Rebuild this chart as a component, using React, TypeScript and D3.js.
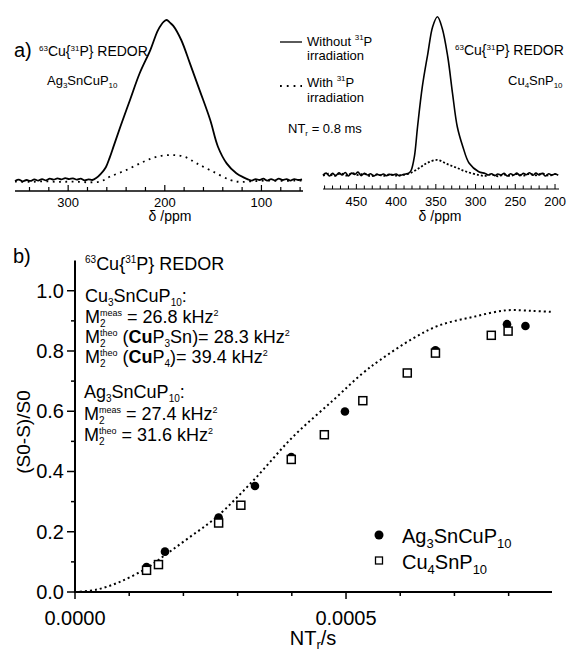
import React, { useEffect, useRef } from "react";
import * as d3 from "d3";

const W = 569;
const H = 654;
const FONT = "'Liberation Sans', Arial, Helvetica, sans-serif";

// a) left spectrum, Ag3SnCuP10  [ppm, normalised intensity]
const agSolid: [number, number][] = [
  [355, -0.006], [351, 0.002], [347, -0.008], [343, 0.0], [339, -0.006], [335, 0.004], [331, -0.004], [327, 0.006],
  [323, -0.002], [319, 0.008], [315, 0.002], [311, 0.01], [307, 0.004], [303, 0.012], [299, 0.006], [295, 0.01],
  [291, 0.002], [287, 0.008], [283, -0.002], [279, 0.004], [275, 0.0], [271, 0.012],
  [266, 0.04], [261, 0.08], [257, 0.14], [253, 0.21], [246, 0.333], [236, 0.5], [226, 0.667], [215, 0.812],
  [207, 0.937], [201, 0.99], [198, 1.0], [195, 0.985], [191, 0.962], [183, 0.875], [174, 0.729], [164, 0.562],
  [153, 0.375], [145, 0.208], [136, 0.104], [126, 0.042], [118, 0.015],
  [114, 0.004], [110, -0.004], [106, 0.006], [102, 0.0], [98, 0.008], [94, -0.004], [90, 0.006], [86, -0.002],
  [82, 0.008], [78, 0.0], [74, 0.006], [70, -0.004], [66, 0.006], [62, 0.0], [58, 0.004],
];
const agDotted: [number, number][] = [
  [355, -0.01], [340, -0.012], [325, -0.008], [310, -0.012], [295, -0.01], [280, -0.014], [267, -0.01],
  [257, 0.02], [240, 0.062], [222, 0.114], [208, 0.146], [193, 0.156], [180, 0.146], [167, 0.104],
  [150, 0.052], [132, 0.0], [122, -0.012], [110, -0.008], [95, -0.004], [80, -0.006], [65, -0.004], [58, -0.004],
];

// a) right spectrum, Cu4SnP10  [ppm, normalised intensity]
const cuSolid: [number, number][] = [
  [492, 0.0], [488, 0.012], [484, -0.006], [480, 0.01], [476, -0.004], [472, 0.014], [468, 0.0], [464, 0.016],
  [460, -0.006], [456, 0.012], [452, 0.004], [448, 0.018], [444, -0.004], [440, 0.01], [436, 0.0], [432, 0.008],
  [428, -0.006], [424, 0.004], [420, -0.002], [416, 0.006], [412, -0.004], [408, 0.004], [404, 0.0], [400, 0.006],
  [396, -0.004], [392, 0.002], [388, 0.006], [384, 0.012],
  [381, 0.03], [377, 0.116], [373, 0.305], [367, 0.558], [360, 0.769], [354, 0.937], [348, 1.0], [342, 0.927],
  [335, 0.747], [329, 0.516], [323, 0.305], [316, 0.179], [308, 0.074], [296, 0.021], [288, 0.01],
  [284, 0.0], [280, 0.008], [276, -0.004], [272, 0.006], [268, 0.0], [264, 0.01], [260, -0.006], [256, 0.008],
  [252, 0.0], [248, 0.012], [244, -0.004], [240, 0.01], [236, 0.002], [232, 0.014], [228, -0.002], [224, 0.012],
  [220, 0.0], [216, 0.01], [212, -0.006], [208, 0.008], [204, 0.0], [200, 0.006], [196, -0.002],
];
const cuDotted: [number, number][] = [
  [492, -0.004], [485, 0.008], [478, -0.006], [470, 0.01], [462, -0.004], [455, 0.012], [448, 0.0], [440, 0.008],
  [432, -0.008], [424, 0.004], [416, -0.006], [408, 0.004], [400, -0.004], [392, 0.0], [383, 0.01],
  [371, 0.044], [361, 0.076], [348, 0.095], [336, 0.07], [323, 0.044], [311, 0.02], [296, 0.0],
  [288, -0.006], [280, 0.004], [272, -0.008], [264, 0.002], [256, -0.006], [248, 0.006], [240, -0.004],
  [232, 0.008], [224, -0.002], [216, 0.01], [208, -0.004], [200, 0.006], [196, 0.0],
];

// b) REDOR curves
const agNT = [0.000132, 0.000166, 0.000265, 0.000332, 0.000399, 0.000498, 0.000665, 0.000797, 0.000831];
const agDS = [0.083, 0.134, 0.247, 0.352, 0.448, 0.599, 0.802, 0.889, 0.883];
const cuNT = [0.000132, 0.000154, 0.000265, 0.000306, 0.000399, 0.00046, 0.000531, 0.000613, 0.000665, 0.000768, 0.000799];
const cuDS = [0.072, 0.091, 0.229, 0.288, 0.44, 0.522, 0.635, 0.727, 0.793, 0.852, 0.866];
const theoNT = [0, 0.00004, 0.000082, 0.000131, 0.000168, 0.00021, 0.00026, 0.00033, 0.000402, 0.000476, 0.00053,
  0.000562, 0.000623, 0.000672, 0.000734, 0.000796, 0.000845, 0.000879];
const theoDS = [0, 0.008, 0.033, 0.078, 0.125, 0.18, 0.247, 0.372, 0.515, 0.636, 0.725, 0.769, 0.841, 0.885,
  0.913, 0.935, 0.933, 0.93];

const yTicks = [0, 0.2, 0.4, 0.6, 0.8, 1.0];
const xTickLabels = ["0.0000", "0.0005"];

type Part = { t: string; size?: number; dy?: number; bold?: boolean; stack?: boolean };

// one <text>, each piece a tspan placed by measuring the one before
function rich(g: any, x: number, y: number, parts: Part[], base: number) {
  const txt = g.append("text").attr("font-size", base).style("white-space", "pre");
  let cx = x;
  let held = 0;
  parts.forEach((p) => {
    const el = txt
      .append("tspan")
      .attr("x", cx)
      .attr("y", y + (p.dy || 0))
      .attr("font-size", p.size || base)
      .attr("font-weight", p.bold ? "bold" : "normal")
      .text(p.t);
    const w = (el.node() as SVGTextContentElement).getComputedTextLength();
    if (p.stack) {
      held = w;
    } else {
      cx += Math.max(w, held);
      held = 0;
    }
  });
  return { txt, width: cx - x };
}

const App = () => {
  const ref = useRef<SVGSVGElement>(null);

  useEffect(() => {
    const svg = d3.select(ref.current);
    svg.selectAll("*").remove();
    const g = svg.append("g").attr("font-family", FONT).attr("fill", "#000");

    // ---------- a) spectra ----------
    const spectrum = (
      xs: any, ys: any, solid: [number, number][], dotted: [number, number][], dash: string, sw: number
    ) => {
      const line = d3
        .line<[number, number]>()
        .x((d) => xs(d[0]))
        .y((d) => ys(d[1]))
        .curve(d3.curveCatmullRom.alpha(0.5));
      g.append("path").attr("d", line(dotted)).attr("fill", "none").attr("stroke", "#000")
        .attr("stroke-width", 1.8).attr("stroke-dasharray", dash);
      g.append("path").attr("d", line(solid)).attr("fill", "none").attr("stroke", "#000")
        .attr("stroke-width", sw).attr("stroke-linejoin", "round");
    };

    const xL = d3.scaleLinear().domain([355, 57]).range([15, 303]);
    const yL = d3.scaleLinear().domain([0, 1]).range([180, 20]);
    spectrum(xL, yL, agSolid, agDotted, "1.8,4.5", 1.8);

    const xR = d3.scaleLinear().domain([492, 195]).range([323, 559]);
    const yR = d3.scaleLinear().domain([0, 1]).range([175, 16.7]);
    spectrum(xR, yR, cuSolid, cuDotted, "2,2", 1.6);

    // top axes
    const axisL = 191;
    g.append("line").attr("x1", 15).attr("x2", 303).attr("y1", axisL).attr("y2", axisL)
      .attr("stroke", "#000").attr("stroke-width", 1.5);
    d3.range(60, 341, 20).forEach((v) => {
      const major = v % 100 === 0;
      g.append("line").attr("x1", xL(v)).attr("x2", xL(v)).attr("y1", axisL).attr("y2", axisL - (major ? 6 : 4))
        .attr("stroke", "#000").attr("stroke-width", 1.2);
      if (major)
        g.append("text").attr("x", xL(v)).attr("y", 206.5).attr("text-anchor", "middle").attr("font-size", 13).text(v);
    });
    g.append("text").attr("x", 170).attr("y", 221).attr("text-anchor", "middle").attr("font-size", 14).text("δ /ppm");

    const axisR = 189;
    g.append("line").attr("x1", 323).attr("x2", 559).attr("y1", axisR).attr("y2", axisR)
      .attr("stroke", "#000").attr("stroke-width", 1);
    d3.range(200, 491, 10).forEach((v) => {
      const major = v % 50 === 0;
      g.append("line").attr("x1", xR(v)).attr("x2", xR(v)).attr("y1", axisR).attr("y2", axisR - (major ? 5 : 3.5))
        .attr("stroke", "#000").attr("stroke-width", 1);
      if (major)
        g.append("text").attr("x", xR(v)).attr("y", 206).attr("text-anchor", "middle").attr("font-size", 13).text(v);
    });
    g.append("text").attr("x", 440).attr("y", 221).attr("text-anchor", "middle").attr("font-size", 14).text("δ /ppm");

    // top labels
    g.append("text").attr("x", 14).attr("y", 57).attr("font-size", 20).text("a)");
    const redorTop: Part[] = [
      { t: "63", size: 8, dy: -5 }, { t: "Cu{" }, { t: "31", size: 8, dy: -5 }, { t: "P} REDOR" },
    ];
    rich(g, 39, 56, redorTop, 14);
    rich(g, 47, 85, [{ t: "Ag" }, { t: "3", size: 8, dy: 3 }, { t: "SnCuP" }, { t: "10", size: 8, dy: 3 }], 13);
    rich(g, 455, 55, redorTop, 14);
    rich(g, 508, 85, [{ t: "Cu" }, { t: "4", size: 8, dy: 3 }, { t: "SnP" }, { t: "10", size: 8, dy: 3 }], 13);

    g.append("line").attr("x1", 280).attr("x2", 302).attr("y1", 42).attr("y2", 42).attr("stroke", "#000").attr("stroke-width", 1.3);
    rich(g, 307, 45.5, [{ t: "Without " }, { t: "31", size: 8, dy: -6 }, { t: "P" }], 13);
    g.append("text").attr("x", 307).attr("y", 60).attr("font-size", 13).text("irradiation");
    g.append("line").attr("x1", 280).attr("x2", 302).attr("y1", 86).attr("y2", 86).attr("stroke", "#000")
      .attr("stroke-width", 1.8).attr("stroke-dasharray", "1.8,5");
    rich(g, 307, 87, [{ t: "With " }, { t: "31", size: 8, dy: -6 }, { t: "P" }], 13);
    g.append("text").attr("x", 307).attr("y", 101.5).attr("font-size", 13).text("irradiation");
    rich(g, 288, 133, [{ t: "NT" }, { t: "r", size: 8, dy: 3 }, { t: " = 0.8 ms" }], 13);

    // ---------- b) REDOR ----------
    const x = d3.scaleLinear().domain([0, 0.00088]).range([75, 552]);
    const y = d3.scaleLinear().domain([0, 1.1]).range([592, 260.6]);

    const theo = d3
      .line<number>()
      .x((d) => x(d))
      .y((_, i) => y(theoDS[i]))
      .curve(d3.curveCatmullRom.alpha(0.5));
    g.append("path").attr("d", theo(theoNT)).attr("fill", "none").attr("stroke", "#000")
      .attr("stroke-width", 2).attr("stroke-dasharray", "2,3");

    agNT.forEach((v, i) => {
      g.append("circle").attr("cx", x(v)).attr("cy", y(agDS[i])).attr("r", 4.3).attr("fill", "#000");
    });
    cuNT.forEach((v, i) => {
      g.append("rect").attr("x", x(v) - 4).attr("y", y(cuDS[i]) - 4).attr("width", 8).attr("height", 8)
        .attr("fill", "#fff").attr("stroke", "#000").attr("stroke-width", 1.5);
    });

    // axes
    g.append("line").attr("x1", 75).attr("x2", 552).attr("y1", 592).attr("y2", 592).attr("stroke", "#000").attr("stroke-width", 2);
    g.append("line").attr("x1", 75).attr("x2", 75).attr("y1", 593).attr("y2", 260.6).attr("stroke", "#000").attr("stroke-width", 2);
    d3.range(0, 9).forEach((k) => {
      const v = k * 0.0001;
      const major = k % 5 === 0;
      g.append("line").attr("x1", x(v)).attr("x2", x(v)).attr("y1", 592).attr("y2", 592 + (major ? 7 : 4))
        .attr("stroke", "#000").attr("stroke-width", 1.5);
    });
    xTickLabels.forEach((t, k) => {
      g.append("text").attr("x", x(k * 0.0005)).attr("y", 625).attr("text-anchor", "middle").attr("font-size", 20).text(t);
    });
    yTicks.forEach((v) => {
      g.append("line").attr("x1", 75).attr("x2", 67).attr("y1", y(v)).attr("y2", y(v)).attr("stroke", "#000").attr("stroke-width", 1.5);
      g.append("text").attr("x", 64).attr("y", y(v) + 7).attr("text-anchor", "end").attr("font-size", 20).text(v.toFixed(1));
    });
    d3.range(0.1, 1.0, 0.2).forEach((v) => {
      g.append("line").attr("x1", 75).attr("x2", 71).attr("y1", y(v)).attr("y2", y(v)).attr("stroke", "#000").attr("stroke-width", 1.5);
    });

    const xl = rich(g, 0, 645, [{ t: "NT" }, { t: "r", size: 13, dy: 4 }, { t: "/s" }], 20);
    xl.txt.attr("transform", `translate(${313 - xl.width / 2},0)`);
    g.append("text").attr("transform", "translate(30,432) rotate(-90)").attr("text-anchor", "middle")
      .attr("font-size", 19).text("(S0-S)/S0");
    g.append("text").attr("x", 13).attr("y", 263).attr("font-size", 20).text("b)");

    // annotations
    const sup = (t: string): Part => ({ t, size: 9, dy: -7 });
    const sub = (t: string, stack = false): Part => ({ t, size: 10, dy: 4, stack });
    rich(g, 85, 270, [{ t: "63", size: 10, dy: -7 }, { t: "Cu{" }, { t: "31", size: 10, dy: -7 }, { t: "P} REDOR" }], 18);
    rich(g, 85, 302, [{ t: "Cu" }, sub("3"), { t: "SnCuP" }, sub("10"), { t: ":" }], 18);
    rich(g, 85, 323, [{ t: "M" }, sub("2", true), sup("meas"), { t: " = 26.8 kHz" }, sup("2")], 18);
    rich(g, 85, 343, [{ t: "M" }, sub("2", true), sup("theo"), { t: " (" }, { t: "Cu", bold: true }, { t: "P" }, sub("3"),
      { t: "Sn)= 28.3 kHz" }, sup("2")], 18);
    rich(g, 85, 363, [{ t: "M" }, sub("2", true), sup("theo"), { t: " (" }, { t: "Cu", bold: true }, { t: "P" }, sub("4"),
      { t: ")= 39.4 kHz" }, sup("2")], 18);
    rich(g, 84, 398, [{ t: "Ag" }, sub("3"), { t: "SnCuP" }, sub("10"), { t: ":" }], 18);
    rich(g, 84, 420, [{ t: "M" }, sub("2", true), sup("meas"), { t: " = 27.4 kHz" }, sup("2")], 18);
    rich(g, 84, 441, [{ t: "M" }, sub("2", true), sup("theo"), { t: " = 31.6 kHz" }, sup("2")], 18);

    // legend
    g.append("circle").attr("cx", 379).attr("cy", 535).attr("r", 4.5).attr("fill", "#000");
    rich(g, 402, 543, [{ t: "Ag" }, { t: "3", size: 13, dy: 5 }, { t: "SnCuP" }, { t: "10", size: 13, dy: 5 }], 20);
    g.append("rect").attr("x", 375.5).attr("y", 557).attr("width", 7).attr("height", 7)
      .attr("fill", "#fff").attr("stroke", "#000").attr("stroke-width", 1.3);
    rich(g, 402, 569, [{ t: "Cu" }, { t: "4", size: 13, dy: 5 }, { t: "SnP" }, { t: "10", size: 13, dy: 5 }], 20);
  }, []);

  return (
    <svg
      ref={ref}
      width={W}
      height={H}
      style={{ position: "absolute", left: 0, top: 0, background: "#fff" }}
    />
  );
};

export default App;
